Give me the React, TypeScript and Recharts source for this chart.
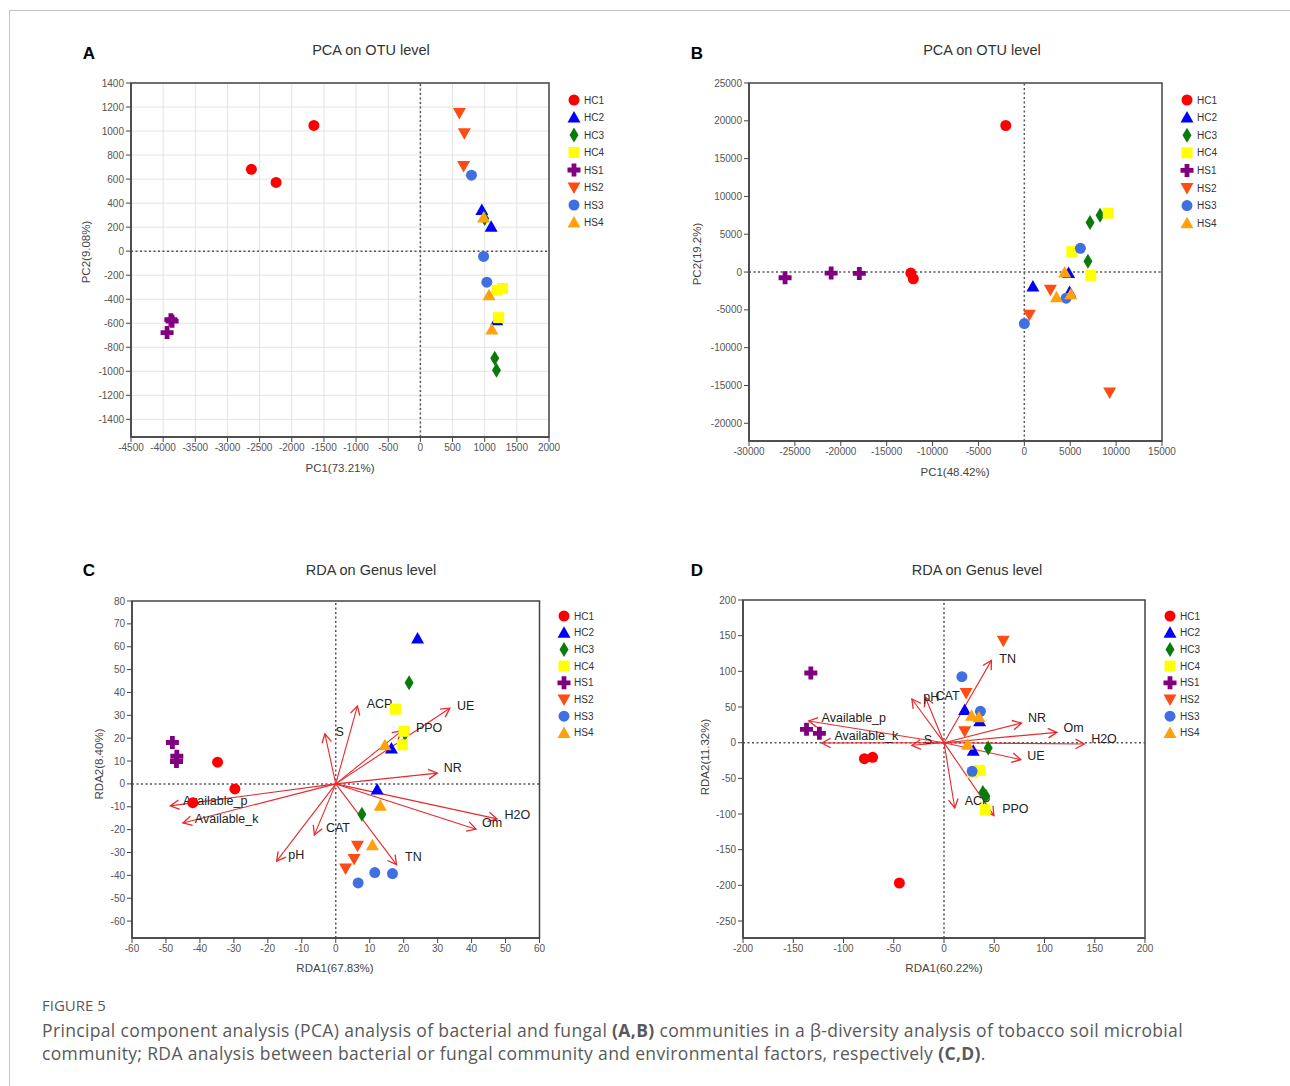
import React from 'react'
import {
  ScatterChart, Scatter, XAxis, YAxis, CartesianGrid, ReferenceLine, ReferenceArea,
} from 'recharts'

const GROUPS = ['HC1', 'HC2', 'HC3', 'HC4', 'HS1', 'HS2', 'HS3', 'HS4']

const GROUP_COLORS: Record<string, string> = {
  HC1: '#ff0000', HC2: '#0000ff', HC3: '#0a7a0a', HC4: '#ffff00',
  HS1: '#800080', HS2: '#ff4b14', HS3: '#3f6fe0', HS4: '#ffa10a',
}
const GROUP_SHAPES: Record<string, string> = {
  HC1: 'circle', HC2: 'triangle', HC3: 'diamond', HC4: 'square',
  HS1: 'cross', HS2: 'down', HS3: 'circle', HS4: 'triangle',
}

// [group, x, y]
const pcaBacteria: [string, number, number][] = [
  ['HC1', -2628, 681], ['HC1', -2244, 572], ['HC1', -1656, 1047],
  ['HC2', 956, 342], ['HC2', 1100, 203], ['HC2', 1189, -575],
  ['HC3', 1000, 272], ['HC3', 1156, -892], ['HC3', 1183, -992],
  ['HC4', 1189, -325], ['HC4', 1278, -311], ['HC4', 1217, -553],
  ['HS1', -3861, -583], ['HS1', -3880, -570], ['HS1', -3939, -678],
  ['HS2', 606, 1150], ['HS2', 683, 981], ['HS2', 672, 708],
  ['HS3', 794, 633], ['HS3', 983, -44], ['HS3', 1033, -258],
  ['HS4', 983, 281], ['HS4', 1067, -367], ['HS4', 1111, -653],
]

const pcaFungi: [string, number, number][] = [
  ['HC1', -2023, 19380], ['HC1', -12370, -130], ['HC1', -12100, -885],
  ['HC2', 934, -1900], ['HC2', 4825, -130], ['HC2', 4940, -2650],
  ['HC3', 7160, 6550], ['HC3', 8250, 7520], ['HC3', 6930, 1415],
  ['HC4', 9140, 7790], ['HC4', 5175, 2700], ['HC4', 7240, -440],
  ['HS1', -26070, -750], ['HS1', -21050, -130], ['HS1', -17980, -180],
  ['HS2', 2840, -2345], ['HS2', 545, -5660], ['HS2', 9300, -15930],
  ['HS3', 6110, 3140], ['HS3', 4550, -3450], ['HS3', 0, -6810],
  ['HS4', 4400, -45], ['HS4', 3500, -3320], ['HS4', 5060, -2920],
]

const rdaBacteria: [string, number, number][] = [
  ['HC1', -34.8, 9.5], ['HC1', -29.7, -2.2], ['HC1', -42.1, -8.2],
  ['HC2', 24.1, 63.6], ['HC2', 16.4, 15.5], ['HC2', 12.2, -2.5],
  ['HC3', 21.6, 44.2], ['HC3', 20.4, 22], ['HC3', 7.7, -13.3],
  ['HC4', 17.6, 32.7], ['HC4', 20.1, 23], ['HC4', 19.6, 17.1],
  ['HS1', -48.1, 18.1], ['HS1', -46.8, 12.1], ['HS1', -46.9, 9.8],
  ['HS2', 6.4, -27.1], ['HS2', 5.4, -32.9], ['HS2', 2.9, -37],
  ['HS3', 6.6, -43.3], ['HS3', 11.5, -38.8], ['HS3', 16.7, -39.2],
  ['HS4', 14.5, 16.9], ['HS4', 13.1, -9.6], ['HS4', 10.8, -26.8],
]

const rdaFungi: [string, number, number][] = [
  ['HC1', -79.2, -22.4], ['HC1', -71, -20.6], ['HC1', -44.4, -196.7],
  ['HC2', 20.6, 45.8], ['HC2', 35.5, 30], ['HC2', 29.1, -11.2],
  ['HC3', 44, -7.5], ['HC3', 38.7, -70], ['HC3', 41.6, -74.8],
  ['HC4', 35.5, -38.8], ['HC4', 40.9, -94], ['HC4', 28.4, -42],
  ['HS1', -132.5, 97.7], ['HS1', -136.8, 18.7], ['HS1', -124, 13.1],
  ['HS2', 59, 143], ['HS2', 22, 69.6], ['HS2', 20.6, 15.9],
  ['HS3', 17.8, 92.5], ['HS3', 36.2, 43.9], ['HS3', 28, -40.2],
  ['HS4', 27.4, 37.9], ['HS4', 34.8, 35.5], ['HS4', 23.4, -2.8],
]

// environmental factors: [name, arrow tip x, tip y, label x, label y]
const envBacteria: [string, number, number, number, number][] = [
  ['Available_p', -48.7, -9.6, -45, -7.6],
  ['Available_k', -45, -17.1, -41.5, -15.2],
  ['pH', -17.4, -33.8, -14, -31],
  ['CAT', -6.3, -22.3, -2.9, -19.5],
  ['S', -3.2, 21.9, -0.1, 22.7],
  ['ACP', 6.4, 34.1, 9.1, 34.8],
  ['UE', 33.6, 33.1, 35.7, 34.1],
  ['PPO', 19.4, 23.2, 23.6, 24.6],
  ['NR', 29.9, 4.7, 31.8, 7],
  ['H2O', 47.5, -15.3, 49.7, -13.6],
  ['Om', 41.3, -19.8, 43.1, -17.3],
  ['TN', 17.9, -35.3, 20.4, -31.9],
]

const envFungi: [string, number, number, number, number][] = [
  ['Available_p', -134.6, 30.4, -121.8, 34.6],
  ['Available_k', -121.5, -0.5, -109, 8.9],
  ['S', -32, -3.7, -20.2, 3.7],
  ['pH', -32, 61.2, -20.6, 63.6],
  ['CAT', -18.5, 63.6, -8.5, 65],
  ['TN', 47.2, 115.4, 55, 117.8],
  ['NR', 77.1, 27.6, 83.5, 34.6],
  ['Om', 112.3, 14.5, 119, 21],
  ['H2O', 139.6, -1.9, 146.4, 5.1],
  ['UE', 76.4, -23.8, 82.8, -19.2],
  ['ACP', 10.7, -91.6, 20.6, -82.2],
  ['PPO', 49.7, -102.3, 57.9, -93],
]

const ticksA_x = [-4500, -4000, -3500, -3000, -2500, -2000, -1500, -1000, -500, 0, 500, 1000, 1500, 2000]
const ticksA_y = [-1400, -1200, -1000, -800, -600, -400, -200, 0, 200, 400, 600, 800, 1000, 1200, 1400]
const ticksB_x = [-30000, -25000, -20000, -15000, -10000, -5000, 0, 5000, 10000, 15000]
const ticksB_y = [-20000, -15000, -10000, -5000, 0, 5000, 10000, 15000, 20000, 25000]
const ticksC_x = [-60, -50, -40, -30, -20, -10, 0, 10, 20, 30, 40, 50, 60]
const ticksC_y = [-60, -50, -40, -30, -20, -10, 0, 10, 20, 30, 40, 50, 60, 70, 80]
const ticksD_x = [-200, -150, -100, -50, 0, 50, 100, 150, 200]
const ticksD_y = [-250, -200, -150, -100, -50, 0, 50, 100, 150, 200]

const ARROW = '#e8292c'
const AXIS = '#444'
const SANS = '"Liberation Sans", Arial, sans-serif'

function Marker({ kind, color, cx, cy }: any) {
  if (cx == null || cy == null) return null
  switch (kind) {
    case 'circle':
      return <circle cx={cx} cy={cy} r={5.5} fill={color} />
    case 'triangle':
      return <polygon points={`${cx},${cy - 6.5} ${cx + 6.5},${cy + 5} ${cx - 6.5},${cy + 5}`} fill={color} />
    case 'down':
      return <polygon points={`${cx - 6.5},${cy - 5} ${cx + 6.5},${cy - 5} ${cx},${cy + 6.5}`} fill={color} />
    case 'diamond':
      return <polygon points={`${cx},${cy - 7.5} ${cx + 4.5},${cy} ${cx},${cy + 7.5} ${cx - 4.5},${cy}`} fill={color} />
    case 'square':
      return <rect x={cx - 5.5} y={cy - 5.5} width={11} height={11} fill={color} />
    case 'cross':
      return (
        <path
          d={`M${cx - 2.4},${cy - 6.5}h4.8v4.1h4.1v4.8h-4.1v4.1h-4.8v-4.1h-4.1v-4.8h4.1z`}
          fill={color}
        />
      )
    default:
      return null
  }
}

const ArrowShape = (p: any) => {
  const { x1, y1, x2, y2 } = p
  const a = Math.atan2(y2 - y1, x2 - x1)
  const h = 10
  const s = 0.5
  const lx = x2 - h * Math.cos(a - s)
  const ly = y2 - h * Math.sin(a - s)
  const rx = x2 - h * Math.cos(a + s)
  const ry = y2 - h * Math.sin(a + s)
  return (
    <g>
      <line x1={x1} y1={y1} x2={x2} y2={y2} stroke={ARROW} strokeWidth={1.1} />
      <polyline points={`${lx},${ly} ${x2},${y2} ${rx},${ry}`} fill="none" stroke={ARROW} strokeWidth={1.3} />
    </g>
  )
}

const LabelShape = (p: any) => (
  <text x={p.cx} y={p.cy} dominantBaseline="central" fontSize={12.5} fill="#222" fontFamily={SANS}>
    {p.payload.name}
  </text>
)

function Legend2({ x, y, step, labelGap }: any) {
  return (
    <svg style={{ position: 'absolute', left: x - 8, top: y - 9 }} width={50} height={step * 8 + 10}>
      {GROUPS.map((g, i) => (
        <g key={g}>
          <Marker kind={GROUP_SHAPES[g]} color={GROUP_COLORS[g]} cx={8} cy={9 + i * step} />
          <text x={8 + labelGap} y={9 + i * step} dominantBaseline="central" fontSize={10} fill="#333" fontFamily={SANS}>
            {g}
          </text>
        </g>
      ))}
    </svg>
  )
}

const abs = (x: number, y: number, extra: any = {}) => ({
  position: 'absolute' as const, left: x, top: y, transform: 'translate(-50%, -50%)', whiteSpace: 'nowrap' as const, ...extra,
})

function Panel({ c }: { c: any }) {
  const { L, R, T, B } = c.plot
  const left = L - 71
  const top = T - 43
  const width = R - left + 22
  const height = B - top + 25
  const tick = { fontSize: 10, fill: '#555', fontFamily: SANS }
  return (
    <>
      <div style={abs(c.letterPos[0], c.letterPos[1], { fontFamily: SANS, fontWeight: 'bold', fontSize: 17, color: '#000' })}>{c.letter}</div>
      <div style={abs(c.titlePos[0], c.titlePos[1], { fontFamily: SANS, fontSize: 14.5, color: '#333' })}>{c.title}</div>
      <div style={abs(c.xLabelPos[0], c.xLabelPos[1], { fontFamily: SANS, fontSize: 11.5, color: '#444' })}>{c.xLabel}</div>
      <div style={abs(c.yLabelPos[0], c.yLabelPos[1], { fontFamily: SANS, fontSize: 11.5, color: '#444', transform: 'translate(-50%, -50%) rotate(-90deg)' })}>{c.yLabel}</div>
      <div style={{ position: 'absolute', left, top }}>
        <ScatterChart width={width} height={height} margin={{ top: 43, right: 22, bottom: 5, left: 11 }}>
          {c.grid && <CartesianGrid stroke="#e4e4e4" strokeWidth={1} />}
          <XAxis
            type="number" dataKey="x" domain={c.xDomain} ticks={c.xTicks} interval={0} height={20}
            tick={tick} tickSize={5} tickLine={{ stroke: AXIS }} axisLine={{ stroke: AXIS, strokeWidth: 1.5 }}
            allowDataOverflow
          />
          <YAxis
            type="number" dataKey="y" domain={c.yDomain} ticks={c.yTicks} interval={0} width={60}
            tick={tick} tickSize={5} tickLine={{ stroke: AXIS }} axisLine={{ stroke: AXIS, strokeWidth: 1.5 }}
            allowDataOverflow
          />
          <ReferenceArea
            x1={c.xDomain[0]} x2={c.xDomain[1]} y1={c.yDomain[0]} y2={c.yDomain[1]}
            fill="none" fillOpacity={0} stroke={AXIS} strokeWidth={1.5} ifOverflow="visible"
          />
          <ReferenceLine x={0} stroke="#555" strokeWidth={1.5} strokeDasharray="2 2.5" />
          <ReferenceLine y={0} stroke="#555" strokeWidth={1.5} strokeDasharray="2 2.5" />
          {(c.arrows || []).map((a: any) => (
            <ReferenceLine
              key={a[0]}
              segment={[{ x: 0, y: 0 }, { x: a[1], y: a[2] }]}
              stroke={ARROW}
              shape={ArrowShape}
            />
          ))}
          {c.arrows && (
            <Scatter
              data={c.arrows.map((a: any) => ({ name: a[0], x: a[3], y: a[4] }))}
              shape={LabelShape}
              isAnimationActive={false}
            />
          )}
          {GROUPS.map((g) => (
            <Scatter
              key={g}
              name={g}
              data={c.points.filter((p: any) => p[0] === g).map((p: any) => ({ x: p[1], y: p[2] }))}
              isAnimationActive={false}
              shape={(p: any) => <Marker kind={GROUP_SHAPES[g]} color={GROUP_COLORS[g]} cx={p.cx} cy={p.cy} />}
            />
          ))}
        </ScatterChart>
      </div>
      <Legend2 x={c.legend[0]} y={c.legend[1]} step={c.legend[2]} labelGap={c.legend[3]} />
    </>
  )
}

const panels = [
  {
    letter: 'A', letterPos: [89, 54], title: 'PCA on OTU level', titlePos: [371, 50],
    xLabel: 'PC1(73.21%)', xLabelPos: [340, 468], yLabel: 'PC2(9.08%)', yLabelPos: [86, 252],
    plot: { L: 131, R: 549, T: 83, B: 437 }, xDomain: [-4500, 2000], yDomain: [-1547, 1400],
    xTicks: ticksA_x, yTicks: ticksA_y, grid: true, points: pcaBacteria, legend: [574, 100, 17.5, 10],
  },
  {
    letter: 'B', letterPos: [697, 54], title: 'PCA on OTU level', titlePos: [982, 50],
    xLabel: 'PC1(48.42%)', xLabelPos: [955, 472], yLabel: 'PC2(19.2%)', yLabelPos: [697, 254],
    plot: { L: 749, R: 1162, T: 83, B: 441 }, xDomain: [-30000, 15000], yDomain: [-22340, 25000],
    xTicks: ticksB_x, yTicks: ticksB_y, grid: false, points: pcaFungi, legend: [1187, 100, 17.6, 10],
  },
  {
    letter: 'C', letterPos: [89, 571], title: 'RDA on Genus level', titlePos: [371, 570],
    xLabel: 'RDA1(67.83%)', xLabelPos: [335, 968], yLabel: 'RDA2(8.40%)', yLabelPos: [99, 764],
    plot: { L: 131.5, R: 539, T: 601, B: 938 }, xDomain: [-60, 60], yDomain: [-67.4, 80],
    xTicks: ticksC_x, yTicks: ticksC_y, grid: false, points: rdaBacteria, arrows: envBacteria,
    legend: [564, 616, 16.7, 10],
  },
  {
    letter: 'D', letterPos: [697, 571], title: 'RDA on Genus level', titlePos: [977, 570],
    xLabel: 'RDA1(60.22%)', xLabelPos: [944, 968], yLabel: 'RDA2(11.32%)', yLabelPos: [705, 757],
    plot: { L: 743, R: 1145, T: 600, B: 938 }, xDomain: [-200, 200], yDomain: [-273.8, 200],
    xTicks: ticksD_x, yTicks: ticksD_y, grid: false, points: rdaFungi, arrows: envFungi,
    legend: [1170, 616, 16.7, 10],
  },
]

export default function App() {
  return (
    <div style={{ position: 'absolute', left: 0, top: 0, width: 1290, height: 1086, overflow: 'hidden', background: '#fff' }}>
      <div style={{ position: 'absolute', left: 9, top: 10, width: 1281, height: 1076, borderLeft: '1px solid #c4c4c4', borderTop: '1px solid #c4c4c4', boxSizing: 'border-box' }} />
      {panels.map((c) => <Panel key={c.letter} c={c} />)}
      <div style={{ position: 'absolute', left: 42, top: 994, fontFamily: '"Open Sans", sans-serif', color: '#595959' }}>
        <div style={{ fontSize: 15, lineHeight: '22px', textTransform: 'uppercase' }}>Figure 5</div>
        <div style={{ fontSize: 17.5, lineHeight: '23px', marginTop: 3, width: 1240, letterSpacing: 0.35, whiteSpace: 'nowrap' }}>
          Principal component analysis (PCA) analysis of bacterial and fungal <b>(A,B)</b> communities in a β-diversity analysis of tobacco soil microbial
          <br />
          community; RDA analysis between bacterial or fungal community and environmental factors, respectively <b>(C,D)</b>.
        </div>
      </div>
    </div>
  )
}
